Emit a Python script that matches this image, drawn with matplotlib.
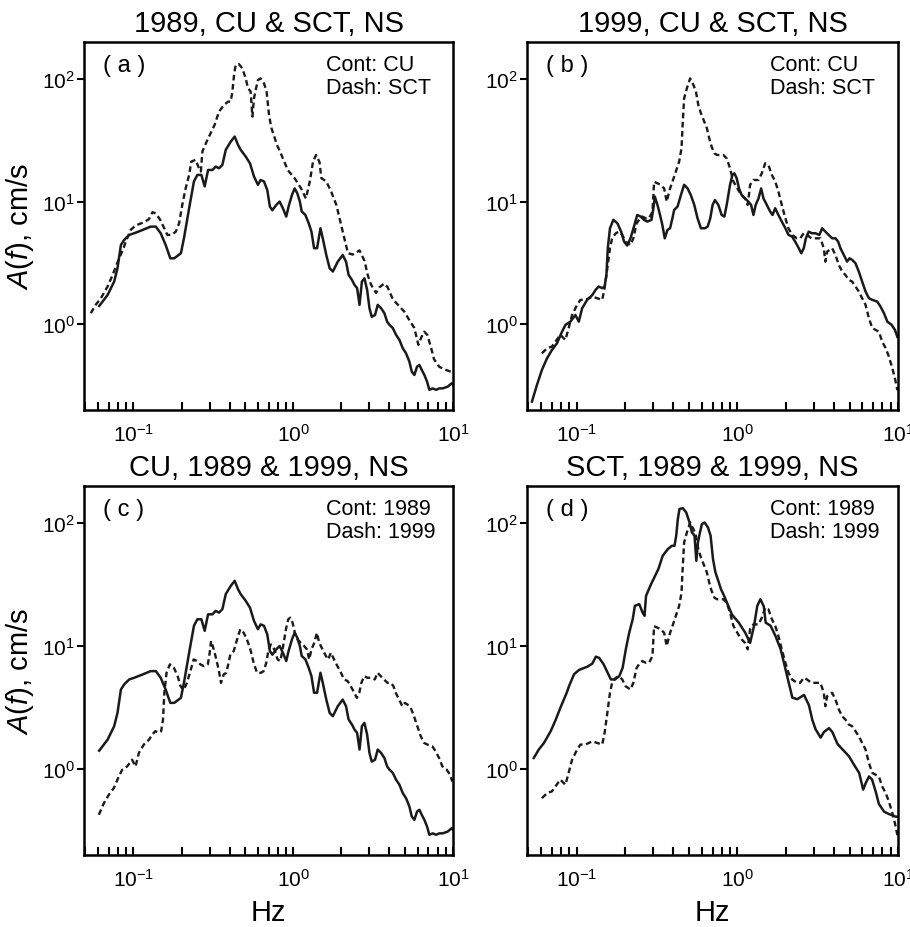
import numpy as np
import matplotlib
matplotlib.use("Agg")
import matplotlib.pyplot as plt
from matplotlib.ticker import NullLocator, NullFormatter, LogLocator

plt.rcParams["font.family"] = ["Liberation Sans", "DejaVu Sans"]
plt.rcParams["mathtext.fontset"] = "custom"
plt.rcParams["mathtext.rm"] = "Liberation Sans"
plt.rcParams["mathtext.it"] = "Liberation Sans:italic"

# CU station, 1989 event (Hz, cm/s)
cu89_f = [0.061, 0.0688, 0.0757, 0.0794, 0.0834, 0.0874, 0.094, 0.101, 0.114, 0.128, 0.138, 0.148,
          0.159, 0.170, 0.180, 0.198, 0.207, 0.223, 0.239, 0.251, 0.266, 0.279, 0.293, 0.312, 0.327,
          0.343, 0.360, 0.378, 0.406, 0.430, 0.451, 0.469, 0.504, 0.536, 0.568, 0.601, 0.625, 0.656,
          0.688, 0.714, 0.74, 0.783, 0.822, 0.862, 0.904, 0.935, 0.981, 1.02, 1.06, 1.10, 1.13, 1.19,
          1.25, 1.30, 1.35, 1.41, 1.48, 1.53, 1.61, 1.69, 1.77, 1.90, 2.04, 2.14, 2.22, 2.33, 2.42,
          2.51, 2.60, 2.69, 2.79, 2.90, 3.00, 3.10, 3.25, 3.38, 3.55, 3.72, 3.87, 4.00, 4.20, 4.40,
          4.62, 4.85, 5.08, 5.33, 5.52, 5.73, 5.96, 6.16, 6.37, 6.62, 6.88, 7.11, 7.46, 7.83, 8.21,
          8.62, 9.26, 9.81, 10.0]
cu89_a = [1.41, 1.73, 2.23, 2.86, 4.43, 4.87, 5.35, 5.52, 5.87, 6.25, 6.25, 5.52,
          4.43, 3.45, 3.45, 3.79, 5.03, 8.83, 14.6, 16.5, 16.5, 13.3, 18.1, 18.1, 19.3,
          18.7, 19.9, 26.4, 30.8, 33.9, 29.0, 26.4, 23.3, 20.5, 16.0, 13.7, 15.0, 14.6,
          12.4, 9.1, 8.5, 9.4, 10.0, 8.8, 7.55, 9.1, 11.3, 12.8, 11.7, 10.0, 8.3, 7.8,
          6.65, 5.69, 4.17, 4.17, 6.06, 5.03, 3.67, 2.86, 2.69, 3.24, 3.67, 3.24, 2.53, 2.30, 2.09,
          1.97, 1.44, 2.23, 2.37, 1.91, 1.35, 1.15, 1.19, 1.44, 1.35, 1.23, 1.05, 0.99, 0.93, 0.82,
          0.745, 0.637, 0.58, 0.497, 0.411, 0.386, 0.452, 0.466, 0.425, 0.386, 0.341, 0.292, 0.30, 0.292, 0.30,
          0.30, 0.31, 0.33, 0.32]

# SCT station, 1989 event
sct89_f = [0.054, 0.058, 0.0625, 0.0688, 0.074, 0.079, 0.0866, 0.0895, 0.0962, 0.1035, 0.1166, 0.125,
           0.1315, 0.138, 0.147, 0.154, 0.163, 0.173, 0.184, 0.193, 0.202, 0.212, 0.223, 0.230, 0.245,
           0.257, 0.264, 0.270, 0.290, 0.304, 0.322, 0.343, 0.369, 0.391, 0.406, 0.416, 0.426, 0.436,
           0.457, 0.480, 0.504, 0.521, 0.541, 0.555, 0.568, 0.582, 0.601, 0.625, 0.656, 0.681, 0.705,
           0.729, 0.76, 0.79, 0.822, 0.926, 1.02, 1.12, 1.2, 1.27, 1.33, 1.39, 1.46, 1.5, 1.61, 1.73,
           1.86, 1.95, 2.09, 2.2, 2.36, 2.6, 2.79, 2.93, 3.07, 3.3, 3.46, 3.72, 3.9, 4.2, 4.5, 4.95,
           5.33, 5.73, 6.07, 6.3, 6.6, 6.9, 7.3, 7.6, 8.2, 8.8, 9.7, 10.0]
sct89_a = [1.23, 1.44, 1.63, 2.03, 2.52, 3.14, 4.17, 4.72, 5.9, 6.4, 6.8, 7.2,
           8.2, 8.0, 7.1, 6.25, 5.35, 5.35, 5.69, 6.65, 9.4, 12.8, 16.5, 21.2, 21.9,
           18.7, 17.6, 25.6, 31.8, 36.1, 42.2, 54.2, 61.4, 65.3, 65.3, 78.9, 108, 130,
           132, 122, 101, 84, 79, 49.3, 69.5, 81.3, 98, 101, 92, 79, 51,
           40, 34, 29, 26, 18, 15.5, 12.8, 10.6, 14.6, 21.2, 24, 21, 15.5, 14.6, 12.0,
           9.4, 7.3, 5.0, 3.8, 3.7, 4.0, 3.3, 2.5, 2.1, 1.8, 2.0, 2.15, 2.0, 1.6, 1.45, 1.27,
           1.08, 0.93, 0.68, 0.77, 0.87, 0.82, 0.64, 0.52, 0.45, 0.43, 0.41, 0.41]

# CU station, 1999 event
cu99_f = [0.0526, 0.0565, 0.0607, 0.0653, 0.0701, 0.0753, 0.081, 0.085, 0.0913, 0.098, 0.103, 0.108,
          0.116, 0.125, 0.131, 0.137, 0.144, 0.149, 0.153, 0.156, 0.161, 0.169, 0.179, 0.189, 0.197,
          0.206, 0.216, 0.227, 0.238, 0.250, 0.262, 0.275, 0.292, 0.300, 0.306, 0.318, 0.330, 0.341,
          0.353, 0.367, 0.381, 0.394, 0.404, 0.424, 0.445, 0.466, 0.490, 0.513, 0.539, 0.565, 0.593,
          0.628, 0.653, 0.678, 0.701, 0.725, 0.761, 0.798, 0.830, 0.858, 0.900, 0.931, 0.958, 0.99,
          1.024, 1.064, 1.117, 1.171, 1.217, 1.259, 1.30, 1.353, 1.406, 1.454, 1.525, 1.60, 1.655,
          1.72, 1.80, 1.89, 1.99, 2.08, 2.19, 2.29, 2.41, 2.50, 2.59, 2.67, 2.78, 2.91, 3.06, 3.24,
          3.37, 3.53, 3.70, 3.89, 4.08, 4.24, 4.38, 4.60, 4.82, 4.99, 5.18, 5.44, 5.70, 5.98, 6.28,
          6.59, 6.92, 7.43, 7.79, 8.18, 8.58, 9.12, 9.57, 9.91]
cu99_a = [0.234, 0.32, 0.425, 0.528, 0.618, 0.70, 0.871, 0.988, 1.05, 1.19, 1.05, 1.35,
          1.58, 1.73, 1.91, 2.03, 1.97, 2.03, 2.52, 4.17, 6.06, 7.1, 6.66, 5.69, 4.72,
          4.38, 5.02, 6.25, 7.78, 7.55, 7.1, 6.87, 7.1, 8.83, 11.0, 9.4, 7.78, 6.46,
          5.02, 5.87, 6.06, 7.31, 8.55, 9.1, 11.3, 13.7, 12.8, 11.3, 9.4, 7.31, 6.06,
          6.06, 6.25, 7.31, 9.4, 10.3, 9.4, 7.78, 7.55, 9.4, 13.7, 16.5, 17.0, 15.5,
          12.8, 11.3, 10.6, 10.0, 9.4, 7.78, 9.4, 10.6, 12.8, 10.6, 9.4, 8.3, 7.78,
          8.83, 7.78, 6.87, 6.06, 5.35, 5.19, 4.72, 4.17, 3.79, 4.17, 5.02, 5.69, 5.52, 5.52, 5.35,
          6.06, 5.69, 5.35, 5.02, 5.02, 4.72, 4.17, 3.67, 3.24, 3.45, 3.35, 3.14, 2.69, 2.23, 1.85,
          1.63, 1.58, 1.53, 1.39, 1.23, 1.05, 0.99, 0.90, 0.79]

# SCT station, 1999 event
sct99_f = [0.0607, 0.0653, 0.070, 0.079, 0.085, 0.089, 0.0935, 0.1005, 0.1054, 0.113, 0.125, 0.134,
           0.144, 0.149, 0.155, 0.161, 0.166, 0.175, 0.183, 0.192, 0.201, 0.216, 0.225, 0.236, 0.248,
           0.256, 0.269, 0.282, 0.296, 0.303, 0.318, 0.333, 0.350, 0.363, 0.381, 0.394, 0.414, 0.434,
           0.449, 0.455, 0.466, 0.485, 0.508, 0.533, 0.552, 0.571, 0.593, 0.622, 0.646, 0.668, 0.691,
           0.718, 0.746, 0.818, 0.858, 0.90, 0.944, 1.014, 1.064, 1.117, 1.16, 1.2, 1.259, 1.353,
           1.419, 1.489, 1.56, 1.64, 1.72, 1.80, 1.89, 1.99, 2.08, 2.19, 2.35, 2.46, 2.59, 2.71, 2.89,
           3.06, 3.29, 3.45, 3.53, 3.62, 3.89, 4.08, 4.28, 4.49, 4.71, 4.94, 5.18, 5.44, 5.70, 5.98,
           6.28, 6.59, 6.92, 7.25, 7.60, 7.98, 8.37, 8.78, 9.22, 9.57, 9.91]
sct99_a = [0.58, 0.637, 0.658, 0.82, 0.745, 0.93, 1.19, 1.44, 1.58, 1.58, 1.68, 1.63,
           1.58, 1.96, 2.86, 4.17, 5.02, 5.52, 5.69, 5.35, 4.72, 4.43, 5.02, 6.66, 7.31,
           7.55, 7.31, 7.31, 8.28, 14.5, 14.1, 13.7, 12.8, 10.0, 12.8, 14.5, 17.6, 21.2,
           27.2, 39.6, 69.5, 84, 101, 89, 79, 61.4, 52.5, 44.9, 39.6, 32.8, 28.1,
           24.8, 24.0, 24.0, 22.5, 18.7, 14.6, 12.4, 11.3, 10.6, 9.4, 13.7, 15.0, 15.0,
           17.0, 20.5, 19.9, 16.5, 14.6, 12.1, 9.4, 7.31, 6.06, 5.35, 5.02, 5.02, 5.52, 5.35, 5.02,
           5.02, 5.02, 4.17, 3.24, 3.91, 4.17, 3.67, 3.05, 2.69, 2.52, 2.30, 2.23, 2.03, 1.85, 1.63,
           1.44, 1.12, 0.93, 0.90, 0.87, 0.72, 0.64, 0.544, 0.438, 0.363, 0.29]

titles = ["1989, CU & SCT, NS", "1999, CU & SCT, NS",
          "CU, 1989 & 1999, NS", "SCT, 1989 & 1999, NS"]
tags = ["( a )", "( b )", "( c )", "( d )"]
legends = ["Cont: CU\nDash: SCT", "Cont: CU\nDash: SCT",
           "Cont: 1989\nDash: 1999", "Cont: 1989\nDash: 1999"]

INK = "#1a1a1a"
W, H = 910, 928


def _panel(fig, box, solid, dashed, title, tag, legend, left_col, bottom_row, fmin=0.0):
    x0, y0, x1, y1 = box
    ax = fig.add_axes([x0 / W, 1 - y1 / H, (x1 - x0) / W, (y1 - y0) / H])
    f, a = np.array(dashed[0]), np.array(dashed[1])
    m = f >= fmin
    ax.plot(f[m], a[m], color=INK, lw=1.7, ls=(0, (2.4, 1.5)))
    ax.plot(solid[0], solid[1], color=INK, lw=1.8, solid_joinstyle="round")
    ax.set_xscale("log")
    ax.set_yscale("log")
    ax.set_xlim(0.049, 10)
    ax.set_ylim(0.2, 200)
    ax.xaxis.set_major_locator(LogLocator(base=10, numticks=10))
    ax.xaxis.set_minor_locator(LogLocator(base=10, subs=np.arange(2, 10), numticks=20))
    ax.xaxis.set_minor_formatter(NullFormatter())
    ax.yaxis.set_minor_locator(NullLocator())
    ax.tick_params(axis="x", which="both", direction="in", length=6, width=1.5,
                   top=False, labelsize=15, pad=9)
    ax.tick_params(axis="y", which="major", direction="out", length=5, width=1.5,
                   right=False, labelsize=15, pad=1.5)
    for s in ax.spines.values():
        s.set_linewidth(1.8)
    ax.set_title(title, fontsize=21, pad=8)
    ax.text(0.052, 0.968, tag, transform=ax.transAxes, fontsize=17, va="top", ha="left")
    ax.text(0.655, 0.968, legend, transform=ax.transAxes, fontsize=15.5, va="top", ha="left",
            linespacing=1.12)
    if left_col:
        ax.set_ylabel(r"$A(f)$, cm/s", fontsize=21, labelpad=4)
    if bottom_row:
        ax.set_xlabel("Hz", fontsize=21, labelpad=6)
    return ax


fig = plt.figure(figsize=(W / 100, H / 100), dpi=100)
cu89 = (cu89_f, cu89_a)
sct89 = (sct89_f, sct89_a)
cu99 = (cu99_f, cu99_a)
sct99 = (sct99_f, sct99_a)

_panel(fig, (84, 43, 453, 411), cu89, sct89, titles[0], tags[0], legends[0], True, False)
_panel(fig, (527, 43, 898, 411), cu99, sct99, titles[1], tags[1], legends[1], False, False)
_panel(fig, (84, 487, 453, 856), cu89, cu99, titles[2], tags[2], legends[2], True, True, fmin=0.06)
_panel(fig, (527, 487, 898, 856), sct89, sct99, titles[3], tags[3], legends[3], False, True)

fig.savefig("out.png", dpi=100)
plt.close(fig)
